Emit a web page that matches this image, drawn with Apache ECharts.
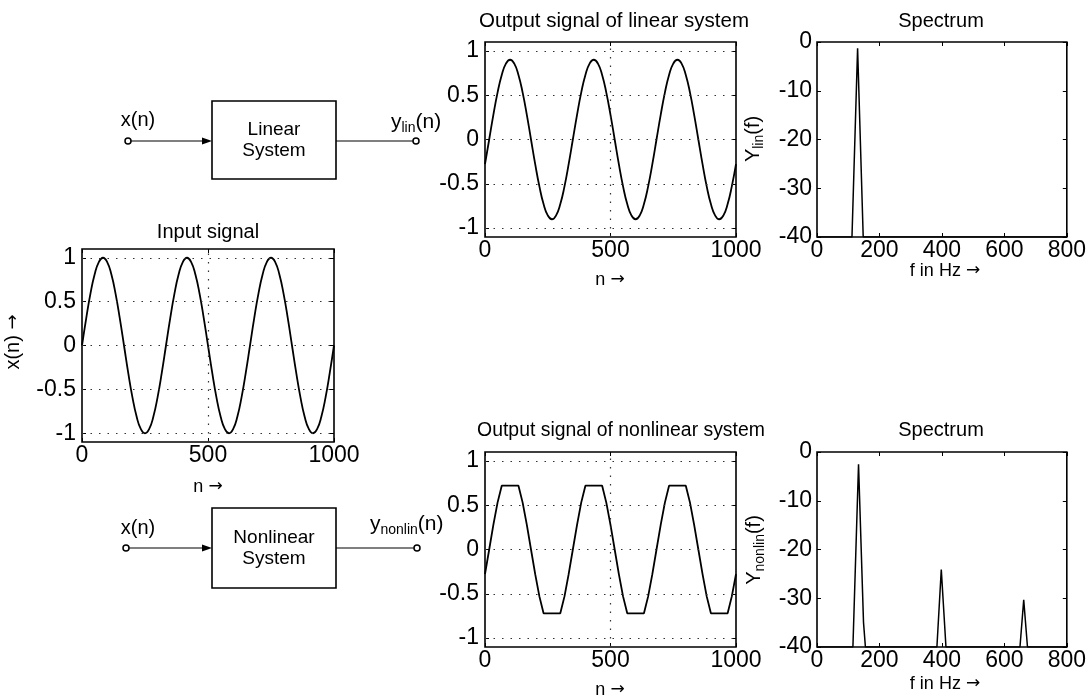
<!DOCTYPE html>
<html>
<head>
<meta charset="utf-8">
<script src="https://cdn.jsdelivr.net/npm/echarts@6/dist/echarts.min.js"></script>
<style>
  html, body { margin: 0; padding: 0; background: #fff; }
  #chart { width: 1089px; height: 700px; }
</style>
</head>
<body>
<div id="chart"></div>
<script>
// ---- sample index n of the time signals (20 samples per period) ----
const sampleN = [0,16.7,33.3,50,66.7,83.3,100,116.7,133.3,150,166.7,183.3,200,216.7,233.3,250,266.7,283.3,300,316.7,
  333.3,350,366.7,383.3,400,416.7,433.3,450,466.7,483.3,500,516.7,533.3,550,566.7,583.3,600,616.7,633.3,650,
  666.7,683.3,700,716.7,733.3,750,766.7,783.3,800,816.7,833.3,850,866.7,883.3,900,916.7,933.3,950,966.7,983.3,1000];

// input signal x(n)
const inputSignal = [
  0,0.309,0.588,0.809,0.951,1,0.951,0.809,0.588,0.309,0,-0.309,-0.588,-0.809,-0.951,-1,-0.951,-0.809,-0.588,-0.309,
  0,0.309,0.588,0.809,0.951,1,0.951,0.809,0.588,0.309,0,-0.309,-0.588,-0.809,-0.951,-1,-0.951,-0.809,-0.588,-0.309,
  0,0.309,0.588,0.809,0.951,1,0.951,0.809,0.588,0.309,0,-0.309,-0.588,-0.809,-0.951,-1,-0.951,-0.809,-0.588,-0.309,
  0];

// output of the linear system y_lin(n)
const linearOutput = [
  -0.278,0,0.278,0.529,0.728,0.856,0.9,0.856,0.728,0.529,0.278,0,-0.278,-0.529,-0.728,-0.856,-0.9,-0.856,-0.728,-0.529,
  -0.278,0,0.278,0.529,0.728,0.856,0.9,0.856,0.728,0.529,0.278,0,-0.278,-0.529,-0.728,-0.856,-0.9,-0.856,-0.728,-0.529,
  -0.278,0,0.278,0.529,0.728,0.856,0.9,0.856,0.728,0.529,0.278,0,-0.278,-0.529,-0.728,-0.856,-0.9,-0.856,-0.728,-0.529,
  -0.278];

// output of the nonlinear (clipping) system y_nonlin(n)
const nonlinOutput = [
  -0.278,0,0.278,0.529,0.72,0.72,0.72,0.72,0.72,0.529,0.278,0,-0.278,-0.529,-0.72,-0.72,-0.72,-0.72,-0.72,-0.529,
  -0.278,0,0.278,0.529,0.72,0.72,0.72,0.72,0.72,0.529,0.278,0,-0.278,-0.529,-0.72,-0.72,-0.72,-0.72,-0.72,-0.529,
  -0.278,0,0.278,0.529,0.72,0.72,0.72,0.72,0.72,0.529,0.278,0,-0.278,-0.529,-0.72,-0.72,-0.72,-0.72,-0.72,-0.529,
  -0.278];

// magnitude spectra in dB (floor at -40 dB)
const linSpecF = [0,112,130,148,800];
const linSpecDb = [-40,-40,-1.3,-40,-40];
const nonlinSpecF = [0,115,133,149,155,384,398,413,650,662,674,800];
const nonlinSpecDb = [-40,-40,-2.5,-35,-40,-40,-24.1,-40,-40,-30.3,-40,-40];

// tick labels
const signalTicks = [-1,-0.5,0,0.5,1];
const dbTicks = [-40,-30,-20,-10,0];

const FONT = "'Liberation Sans', Arial, Helvetica, sans-serif";
const ARROW_FONT = "'DejaVu Sans', sans-serif";
const TICK_SIZE = 23;

const pairs = (xs, ys) => xs.map((x, i) => [x, ys[i]]);

// plot rectangles
const grids = [
  { left: 82,  top: 249, width: 252, height: 193 }, // input
  { left: 485, top: 42,  width: 251, height: 195 }, // linear output
  { left: 817, top: 42,  width: 250, height: 195 }, // linear spectrum
  { left: 485, top: 452, width: 251, height: 195 }, // nonlinear output
  { left: 817, top: 452, width: 250, height: 195 }  // nonlinear spectrum
].map(g => Object.assign({ show: true, borderColor: '#000', borderWidth: 1.6, backgroundColor: '#fff', containLabel: false }, g));

const tickStyle = { show: true, inside: true, length: 4, lineStyle: { color: '#000', width: 1 } };

function xAxisFor(idx, max, interval, mirror) {
  return {
    type: 'value', gridIndex: idx, min: 0, max: max, interval: interval,
    position: mirror ? 'top' : 'bottom',
    axisLine: { show: false, onZero: false },
    axisTick: tickStyle,
    axisLabel: { show: !mirror, color: '#000', fontFamily: FONT, fontSize: TICK_SIZE, margin: 2, formatter: v => String(v) },
    splitLine: { show: false }
  };
}
function signalYAxis(idx, mirror) {
  return {
    type: 'value', gridIndex: idx, min: -1.1, max: 1.1,
    position: mirror ? 'right' : 'left',
    axisLine: { show: false, onZero: false },
    axisTick: Object.assign({}, tickStyle, { customValues: signalTicks }),
    axisLabel: { show: !mirror, color: '#000', fontFamily: FONT, fontSize: TICK_SIZE, margin: 6, customValues: signalTicks },
    splitLine: { show: false }
  };
}
function dbYAxis(idx, mirror) {
  return {
    type: 'value', gridIndex: idx, min: -40, max: 0, interval: 10,
    position: mirror ? 'right' : 'left',
    axisLine: { show: false, onZero: false },
    axisTick: tickStyle,
    axisLabel: { show: !mirror, color: '#000', fontFamily: FONT, fontSize: TICK_SIZE, margin: 5 },
    splitLine: { show: false }
  };
}

// dotted grid used on the time-signal plots
const dottedGrid = {
  silent: true, symbol: 'none', animation: false,
  label: { show: false },
  lineStyle: { color: '#333', type: [1.5, 7], width: 1.2 },
  data: signalTicks.map(v => ({ yAxis: v })).concat([{ xAxis: 500 }])
};

function signalSeries(idx, data, smooth) {
  return {
    type: 'line', xAxisIndex: idx, yAxisIndex: idx, data: data,
    smooth: smooth, showSymbol: false, clip: true,
    lineStyle: { color: '#000', width: 1.8 },
    markLine: dottedGrid, z: 3
  };
}
function spectrumSeries(idx, data) {
  return {
    type: 'line', xAxisIndex: idx, yAxisIndex: idx, data: data,
    showSymbol: false, clip: true,
    lineStyle: { color: '#000', width: 1.5 }, z: 3
  };
}

// ---- text helpers for the graphic layer ----
const measureCtx = document.createElement('canvas').getContext('2d');
function textWidth(s, size, family) {
  measureCtx.font = size + 'px ' + (family || FONT);
  return measureCtx.measureText(s).width;
}
function label(x, y, s, size, extra) {
  return Object.assign({
    type: 'text', x: x, y: y, silent: true,
    style: {
      text: s, fontSize: size, fontFamily: FONT, fill: '#000',
      align: 'center', verticalAlign: 'middle', textAlign: 'center', textVerticalAlign: 'middle'
    }
  }, extra || {});
}
// text made of pieces laid side by side: [text, size, vertical offset, font family]
function pieces(x, y, parts, opts) {
  opts = opts || {};
  let total = 0;
  const widths = parts.map(p => { const w = textWidth(p[0], p[1], p[3]); total += w; return w; });
  let cur = opts.center ? -total / 2 : 0;
  const children = parts.map((p, i) => {
    const el = {
      type: 'text', x: cur, y: p[2] || 0, silent: true,
      style: {
        text: p[0], fontSize: p[1], fontFamily: p[3] || FONT, fill: '#000',
        align: 'left', verticalAlign: 'middle', textAlign: 'left', textVerticalAlign: 'middle'
      }
    };
    cur += widths[i];
    return el;
  });
  return { type: 'group', x: x, y: y, rotation: opts.rotation || 0, children: children, silent: true };
}
function blockDiagram(yMid, boxTop, boxBottom, inLabelY, boxText, outParts, outX, outY, inCircleX, outCircleX) {
  const els = [];
  els.push(label(138, inLabelY, 'x(n)', 20));
  els.push({ type: 'line', shape: { x1: inCircleX + 3, y1: yMid, x2: 204, y2: yMid }, style: { stroke: '#000', lineWidth: 1.2 }, silent: true });
  els.push({ type: 'polygon', shape: { points: [[212, yMid], [202, yMid - 3.5], [202, yMid + 3.5]] }, style: { fill: '#000' }, silent: true });
  els.push({ type: 'rect', shape: { x: 212, y: boxTop, width: 124, height: boxBottom - boxTop }, style: { fill: '#fff', stroke: '#000', lineWidth: 1.6 }, silent: true });
  const boxLabel = label(274, (boxTop + boxBottom) / 2, boxText, 19);
  boxLabel.style.lineHeight = 21;
  els.push(boxLabel);
  els.push({ type: 'line', shape: { x1: 336, y1: yMid, x2: outCircleX - 3, y2: yMid }, style: { stroke: '#000', lineWidth: 1.2 }, silent: true });
  els.push({ type: 'circle', shape: { cx: inCircleX, cy: yMid, r: 3 }, style: { fill: '#fff', stroke: '#000', lineWidth: 1.5 }, silent: true });
  els.push({ type: 'circle', shape: { cx: outCircleX, cy: yMid, r: 3 }, style: { fill: '#fff', stroke: '#000', lineWidth: 1.5 }, silent: true });
  els.push(pieces(outX, outY, outParts));
  return els;
}

const nArrow = [['n ', 18, 0], ['\u2192', 17, 0, ARROW_FONT]];
const fArrow = [['f in Hz ', 18, 0], ['\u2192', 17, 0, ARROW_FONT]];

const graphics = [
  // plot titles
  label(208, 232, 'Input signal', 20),
  label(614, 21, 'Output signal of linear system', 20.5),
  label(941, 21, 'Spectrum', 20),
  label(621, 431, 'Output signal of nonlinear system', 19.4),
  label(941, 430, 'Spectrum', 20),
  // axis names
  pieces(208, 487, nArrow, { center: true }),
  pieces(610, 280, nArrow, { center: true }),
  pieces(610, 690, nArrow, { center: true }),
  pieces(945, 271, fArrow, { center: true }),
  pieces(945, 684, fArrow, { center: true }),
  pieces(13, 342, [['x(n) ', 20, 0], ['\u2192', 18, 0, ARROW_FONT]], { center: true, rotation: Math.PI / 2 }),
  pieces(753, 139, [['Y', 20, 0], ['lin', 14, 6], ['(f)', 20, 0]], { center: true, rotation: Math.PI / 2 }),
  pieces(754, 550, [['Y', 20, 0], ['nonlin', 14, 6], ['(f)', 20, 0]], { center: true, rotation: Math.PI / 2 })
].concat(
  blockDiagram(141, 101, 179, 120, 'Linear\nSystem', [['y', 21, 0], ['lin', 14, 6], ['(n)', 21, 0]], 391, 122, 128, 416),
  blockDiagram(548, 508, 588, 528, 'Nonlinear\nSystem', [['y', 21, 0], ['nonlin', 14, 6], ['(n)', 21, 0]], 370, 524, 126, 417)
);

const chart = echarts.init(document.getElementById('chart'), null, { renderer: 'canvas' });
chart.setOption({
  animation: false,
  backgroundColor: '#fff',
  textStyle: { fontFamily: FONT },
  grid: grids,
  xAxis: [
    xAxisFor(0, 1000, 500), xAxisFor(1, 1000, 500), xAxisFor(2, 800, 200), xAxisFor(3, 1000, 500), xAxisFor(4, 800, 200),
    xAxisFor(0, 1000, 500, true), xAxisFor(1, 1000, 500, true), xAxisFor(2, 800, 200, true), xAxisFor(3, 1000, 500, true), xAxisFor(4, 800, 200, true)
  ],
  yAxis: [
    signalYAxis(0), signalYAxis(1), dbYAxis(2), signalYAxis(3), dbYAxis(4),
    signalYAxis(0, true), signalYAxis(1, true), dbYAxis(2, true), signalYAxis(3, true), dbYAxis(4, true)
  ],
  series: [
    signalSeries(0, pairs(sampleN, inputSignal), 0.5),
    signalSeries(1, pairs(sampleN, linearOutput), 0.5),
    spectrumSeries(2, pairs(linSpecF, linSpecDb)),
    signalSeries(3, pairs(sampleN, nonlinOutput), false),
    spectrumSeries(4, pairs(nonlinSpecF, nonlinSpecDb))
  ],
  graphic: graphics
});
</script>
</body>
</html>
